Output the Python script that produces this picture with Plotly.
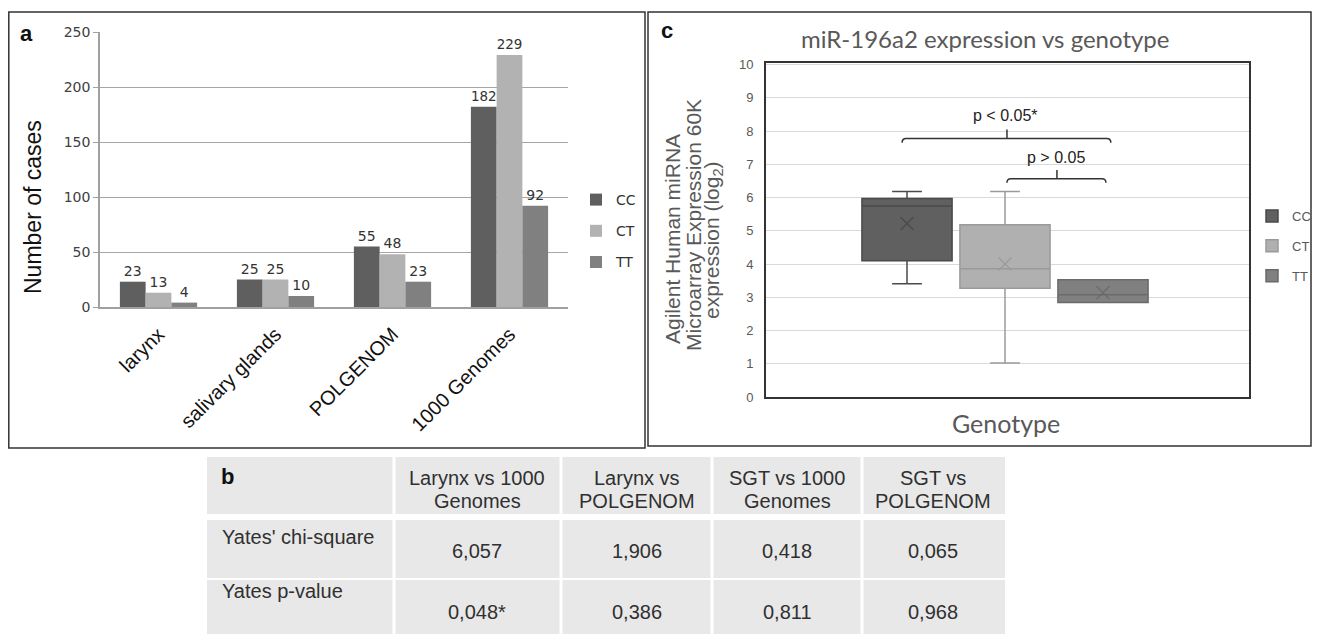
import plotly.graph_objects as go

W, H = 1322, 634
OX, OY = 8, 8  # page body margin offset of the rendered figure
def X(px): return (px - OX) / W
def Y(py): return 1 - (py - OY) / H

# ---------------- data ----------------
groups = ["larynx", "salivary glands", "POLGENOM", "1000 Genomes"]
genotypes = ["CC", "CT", "TT"]
cc_counts = [23, 25, 55, 182]
ct_counts = [13, 25, 48, 229]
tt_counts = [4, 10, 23, 92]

# box plot summary (log2 expression) per genotype CC, CT, TT
box_q1 = [4.1, 3.27, 2.84]
box_median = [5.75, 3.86, 3.08]
box_q3 = [5.97, 5.18, 3.53]
box_low = [3.41, 1.02, 2.84]
box_high = [6.18, 6.18, 3.53]
box_mean = [5.22, 4.0, 3.14]

table_header_1 = ["b", "Larynx vs 1000", "Larynx vs", "SGT vs 1000", "SGT vs"]
table_header_2 = ["", "Genomes", "POLGENOM", "Genomes", "POLGENOM"]
row_labels = ["Yates' chi-square", "Yates p-value"]
chi_square = ["6,057", "1,906", "0,418", "0,065"]
p_values = ["0,048*", "0,386", "0,811", "0,968"]

bar_colors = ["#5f5f5f", "#b2b2b2", "#808080"]
box_fill = ["#606060", "#b0b0b0", "#808080"]
box_line = ["#4a4a4a", "#9a9a9a", "#6a6a6a"]

fig = go.Figure()

# ---------------- panel a ----------------
for name, vals, col in zip(genotypes, [cc_counts, ct_counts, tt_counts], bar_colors):
    fig.add_trace(go.Bar(
        x=groups, y=vals, name=name, marker=dict(color=col, line=dict(width=0)),
        text=[str(v) for v in vals], textposition="outside", cliponaxis=False,
        textfont=dict(family="DejaVu Sans", size=14, color="#333333"),
        xaxis="x", yaxis="y", legend="legend", legendgroup=name,
    ))

# ---------------- panel c ----------------
for i, name in enumerate(genotypes):
    fig.add_trace(go.Box(
        x=[i], q1=[box_q1[i]], median=[box_median[i]], q3=[box_q3[i]],
        lowerfence=[box_low[i]], upperfence=[box_high[i]],
        width=0.92, whiskerwidth=0.33, name=name,
        fillcolor=box_fill[i], line=dict(color=box_line[i], width=1.5),
        xaxis="x2", yaxis="y2", legend="legend2", legendgroup="c" + name,
    ))
    fig.add_trace(go.Scatter(
        x=[i], y=[box_mean[i]], mode="markers", showlegend=False,
        marker=dict(symbol="x-thin", size=13, line=dict(width=1.3, color=box_line[i])),
        xaxis="x2", yaxis="y2", hoverinfo="skip",
    ))

shapes = []
annotations = []

# brackets in panel c
brackets = [
    dict(x0=-0.05, x1=2.08, y=7.78, yend=7.65, ytick=8.05, xc=1.02, label="p < 0.05*", xl=1.01, ylab=8.47),
    dict(x0=1.02, x1=2.03, y=6.57, yend=6.45, ytick=6.83, xc=1.53, label="p > 0.05", xl=1.52, ylab=7.22),
]
for b in brackets:
    path = (f"M {b['x0']},{b['yend']} Q {b['x0']},{b['y']} {b['x0']+0.04},{b['y']} "
            f"L {b['x1']-0.04},{b['y']} Q {b['x1']},{b['y']} {b['x1']},{b['yend']} "
            f"M {b['xc']},{b['y']} L {b['xc']},{b['ytick']}")
    shapes.append(dict(type="path", path=path, xref="x2", yref="y2",
                       line=dict(color="#333333", width=1.5)))
    annotations.append(dict(x=b["xl"], y=b["ylab"], xref="x2", yref="y2", text=b["label"],
                            xanchor="center", yanchor="middle", showarrow=False,
                            font=dict(family="Liberation Sans", size=16, color="#222222")))

# ---------------- table b (cells as rectangles + text) ----------------
col_edges = [207, 394, 561, 712, 862, 1005]
row_edges = [(457, 514), (520, 578), (580, 634)]
for r, (t, btm) in enumerate(row_edges):
    for c in range(len(col_edges) - 1):
        x0 = col_edges[c] + (1.5 if c > 0 else 0)
        x1 = col_edges[c + 1] - (1.5 if c < len(col_edges) - 2 else 0)
        shapes.append(dict(type="rect", xref="paper", yref="paper", layer="below",
                           x0=X(x0), x1=X(x1), y0=Y(btm), y1=Y(t),
                           fillcolor="#e8e8e8", line=dict(width=0)))
tfont = dict(family="Liberation Sans", size=20, color="#303030")
for c in range(len(col_edges) - 1):
    cx = (col_edges[c] + col_edges[c + 1]) / 2
    if c == 0:
        annotations.append(dict(x=X(219), y=Y(477), xref="paper", yref="paper",
                                text="<b>" + table_header_1[0] + "</b>", xanchor="left", yanchor="middle",
                                showarrow=False, font=dict(family="Liberation Sans", size=22, color="#111111")))
        for lbl, yy in zip(row_labels, [537, 591]):
            annotations.append(dict(x=X(220), y=Y(yy), xref="paper", yref="paper", text=lbl,
                                    xanchor="left", yanchor="middle", showarrow=False, font=tfont))
    else:
        annotations.append(dict(x=X(cx), y=Y(478), xref="paper", yref="paper", text=table_header_1[c],
                                xanchor="center", yanchor="middle", showarrow=False, font=tfont))
        if table_header_2[c]:
            annotations.append(dict(x=X(cx), y=Y(501), xref="paper", yref="paper", text=table_header_2[c],
                                    xanchor="center", yanchor="middle", showarrow=False, font=tfont))
        annotations.append(dict(x=X(cx), y=Y(551), xref="paper", yref="paper", text=chi_square[c - 1],
                                xanchor="center", yanchor="middle", showarrow=False, font=tfont))
        annotations.append(dict(x=X(cx), y=Y(612), xref="paper", yref="paper", text=p_values[c - 1],
                                xanchor="center", yanchor="middle", showarrow=False, font=tfont))

# panel borders
shapes.append(dict(type="rect", xref="paper", yref="paper", x0=X(8.8), x1=X(645), y0=Y(448), y1=Y(12),
                   line=dict(color="#333333", width=1.5)))
shapes.append(dict(type="rect", xref="paper", yref="paper", x0=X(648), x1=X(1311), y0=Y(446), y1=Y(12),
                   line=dict(color="#333333", width=1.5)))

# panel labels & titles
annotations += [
    dict(x=X(26), y=Y(34), xref="paper", yref="paper", text="<b>a</b>", showarrow=False,
         xanchor="center", yanchor="middle",
         font=dict(family="Liberation Sans", size=22, color="#111111")),
    dict(x=X(667), y=Y(30), xref="paper", yref="paper", text="<b>c</b>", showarrow=False,
         xanchor="center", yanchor="middle",
         font=dict(family="Liberation Sans", size=22, color="#111111")),
    dict(x=X(33), y=Y(207), xref="paper", yref="paper", text="Number of cases", textangle=-90,
         xanchor="center", yanchor="middle",
         showarrow=False, font=dict(family="Liberation Sans", size=23, color="#111111")),
    dict(x=X(985), y=Y(38), xref="paper", yref="paper", text="miR-196a2 expression vs genotype",
         xanchor="center", yanchor="middle",
         showarrow=False, font=dict(family="Lato", size=24, color="#595959")),
    dict(x=X(1006), y=Y(423), xref="paper", yref="paper", text="Genotype",
         xanchor="center", yanchor="middle",
         showarrow=False, font=dict(family="Lato", size=25, color="#595959")),
]
ytitle_lines = ["Agilent Human miRNA", "Microarray Expression 60K", "expression (log<sub>2</sub>)"]
ytitle_x = [673, 693, 713]
ytitle_y = [239, 225, 240]
for line, lx, ly in zip(ytitle_lines, ytitle_x, ytitle_y):
    annotations.append(dict(x=X(lx), y=Y(ly), xref="paper", yref="paper", text=line,
                            textangle=-90, showarrow=False, xanchor="center", yanchor="middle",
                            font=dict(family="Liberation Sans", size=21, color="#595959")))

fig.update_layout(
    width=W, height=H, margin=dict(l=0, r=0, t=0, b=0, pad=0, autoexpand=False),
    paper_bgcolor="white", plot_bgcolor="white",
    barmode="group", bargap=0.34, bargroupgap=0.0,
    showlegend=True,
    xaxis=dict(domain=[X(100), X(568)], anchor="y", tickangle=-45, showline=True,
               linecolor="#a0a0a0", linewidth=1.5, ticks="", automargin=False,
               ticklabelstandoff=6,
               tickfont=dict(family="Liberation Sans", size=20, color="#111111")),
    yaxis=dict(domain=[Y(307), Y(32)], anchor="x", range=[0, 250], dtick=50, automargin=False,
               showgrid=True, gridcolor="#a6a6a6", gridwidth=1.3, showline=True,
               linecolor="#a0a0a0", linewidth=1.5, ticks="outside", ticklen=5, tickcolor="#a0a0a0",
               zeroline=False,
               tickfont=dict(family="DejaVu Sans", size=14, color="#404040")),
    xaxis2=dict(domain=[X(766), X(1249)], anchor="y2", range=[-1.439, 3.49], automargin=False,
                showticklabels=False, showgrid=False, zeroline=False, ticks="",
                showline=True, mirror=True, linecolor="#333333", linewidth=1.8),
    yaxis2=dict(domain=[Y(397), Y(63)], anchor="x2", range=[0, 10.05], dtick=1, automargin=False,
                showgrid=True, gridcolor="#d9d9d9", gridwidth=1.2, zeroline=False,
                showline=True, mirror=True, linecolor="#333333", linewidth=1.8, ticks="",
                ticklabelstandoff=8,
                tickfont=dict(family="Liberation Sans", size=13, color="#595959")),
    legend=dict(x=X(576), y=Y(184), xanchor="left", yanchor="top", tracegroupgap=10,
                bgcolor="rgba(0,0,0,0)", itemwidth=30,
                font=dict(family="DejaVu Sans", size=14, color="#333333")),
    legend2=dict(x=X(1252), y=Y(201), xanchor="left", yanchor="top", tracegroupgap=10,
                 bgcolor="rgba(0,0,0,0)", itemwidth=30,
                 font=dict(family="Liberation Sans", size=13, color="#595959")),
    shapes=shapes, annotations=annotations,
)

fig.write_html("out.html")
